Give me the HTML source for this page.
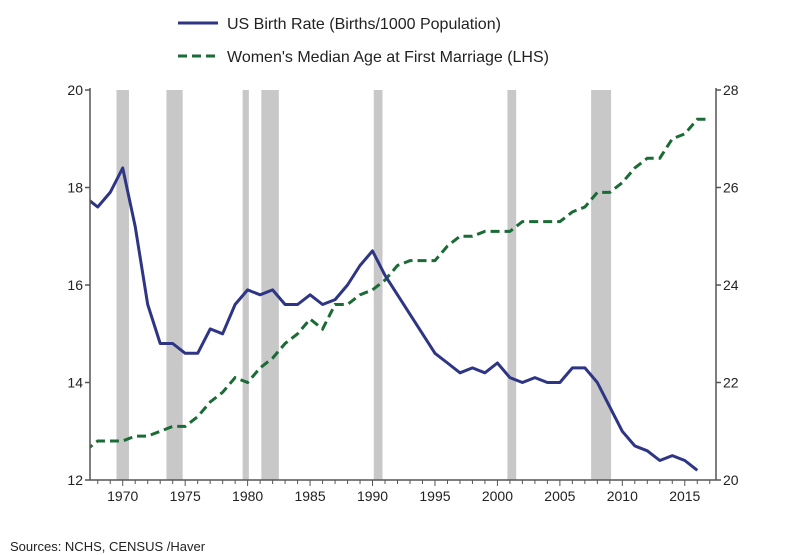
<!DOCTYPE html>
<html><head><meta charset="utf-8"><style>
body{margin:0;background:#fff;}
svg{display:block;font-family:"Liberation Sans",sans-serif;}
</style></head><body>
<svg id="c" width="786" height="555"></svg>
<script>
const years=[1967,1968,1969,1970,1971,1972,1973,1974,1975,1976,1977,1978,1979,1980,1981,1982,1983,1984,1985,1986,1987,1988,1989,1990,1991,1992,1993,1994,1995,1996,1997,1998,1999,2000,2001,2002,2003,2004,2005,2006,2007,2008,2009,2010,2011,2012,2013,2014,2015,2016,2017];
const birthRate=[17.8,17.6,17.9,18.4,17.2,15.6,14.8,14.8,14.6,14.6,15.1,15.0,15.6,15.9,15.8,15.9,15.6,15.6,15.8,15.6,15.7,16.0,16.4,16.7,16.2,15.8,15.4,15.0,14.6,14.4,14.2,14.3,14.2,14.4,14.1,14.0,14.1,14.0,14.0,14.3,14.3,14.0,13.5,13.0,12.7,12.6,12.4,12.5,12.4,12.2,null];
const marriageAge=[20.6,20.8,20.8,20.8,20.9,20.9,21.0,21.1,21.1,21.3,21.6,21.8,22.1,22.0,22.3,22.5,22.8,23.0,23.3,23.1,23.6,23.6,23.8,23.9,24.1,24.4,24.5,24.5,24.5,24.8,25.0,25.0,25.1,25.1,25.1,25.3,25.3,25.3,25.3,25.5,25.6,25.9,25.9,26.1,26.4,26.6,26.6,27.0,27.1,27.4,27.4];
const recessions=[[1969.5,1970.5],[1973.5,1974.8],[1979.6,1980.1],[1981.1,1982.5],[1990.1,1990.8],[2000.8,2001.5],[2007.5,2009.1]];
const leftTicks=[12,14,16,18,20];
const rightTicks=[20,22,24,26,28];
const xTicks=[1970,1975,1980,1985,1990,1995,2000,2005,2010,2015];

const NS="http://www.w3.org/2000/svg";
const svg=document.getElementById('c');
const L=90,R=716,T=90,B=480,X0=1967.38,X1=2017.5;
const x=v=>L+(v-X0)/(X1-X0)*(R-L);
const yL=v=>B-(v-12)/8*(B-T);
const yR=v=>B-(v-20)/8*(B-T);
function mk(tag,attrs,parent){const e=document.createElementNS(NS,tag);for(const k in attrs)e.setAttribute(k,attrs[k]);(parent||svg).appendChild(e);return e;}

const defs=mk('defs',{});
const cp=mk('clipPath',{id:'clip'},defs);
mk('rect',{x:L,y:T-5,width:R-L,height:B-T+10},cp);

recessions.forEach(r=>{
  const e=mk('rect',{x:x(r[0]),y:T,width:x(r[1])-x(r[0]),height:B-T,fill:'#c8c8c8'});
  
  
});

function path(vals,yf){let d='';vals.forEach((v,i)=>{if(v==null)return;d+=(d?'L':'M')+x(years[i]).toFixed(1)+','+yf(v).toFixed(1);});return d;}
const g=mk('path',{d:path(marriageAge,yR),fill:'none',stroke:'#1a6b35','stroke-width':3,'stroke-dasharray':'9,5','clip-path':'url(#clip)'});


const b=mk('path',{d:path(birthRate,yL),fill:'none',stroke:'#2e3584','stroke-width':3,'stroke-linejoin':'round','clip-path':'url(#clip)'});



const ax='#555';
mk('line',{x1:L,y1:T-2,x2:L,y2:B,stroke:ax,'stroke-width':1.5});
mk('line',{x1:R,y1:T-2,x2:R,y2:B,stroke:ax,'stroke-width':1.5});
mk('line',{x1:L,y1:B,x2:R,y2:B,stroke:ax,'stroke-width':1.5});
leftTicks.forEach(v=>{
  mk('line',{x1:L-5,y1:yL(v),x2:L,y2:yL(v),stroke:ax,'stroke-width':1.5});
  const t=mk('text',{x:L-7,y:yL(v)+5,'text-anchor':'end','font-size':14,fill:'#222'});t.textContent=v;
  
  
});
rightTicks.forEach(v=>{
  mk('line',{x1:R,y1:yR(v),x2:R+5,y2:yR(v),stroke:ax,'stroke-width':1.5});
  const t=mk('text',{x:R+7,y:yR(v)+5,'font-size':14,fill:'#222'});t.textContent=v;
  
  
});
for(let yr=1968;yr<=2017;yr++){
  const major=yr%5===0;
  mk('line',{x1:x(yr),y1:B,x2:x(yr),y2:B+(major?6:4),stroke:ax,'stroke-width':1});
}
xTicks.forEach(v=>{
  const t=mk('text',{x:x(v),y:B+21,'text-anchor':'middle','font-size':14,fill:'#222'});t.textContent=v;
  
  
});
</script>
<svg style="position:absolute;left:0;top:0" width="786" height="555">
<g>
<line x1="178" y1="23" x2="218" y2="23" stroke="#2e3584" stroke-width="3"/>
<text x="227" y="29" font-size="16" fill="#222" font-family="Liberation Sans, sans-serif">US Birth Rate (Births/1000 Population)</text>
</g>
<g>
<line x1="178" y1="56" x2="218" y2="56" stroke="#1a6b35" stroke-width="3" stroke-dasharray="9,5"/>
<text x="227" y="62" font-size="16" fill="#222" font-family="Liberation Sans, sans-serif">Women's Median Age at First Marriage (LHS)</text>
</g>
<text x="10" y="551" font-size="13" fill="#222" font-family="Liberation Sans, sans-serif">Sources:  NCHS, CENSUS /Haver</text>
</svg>
</body></html>
